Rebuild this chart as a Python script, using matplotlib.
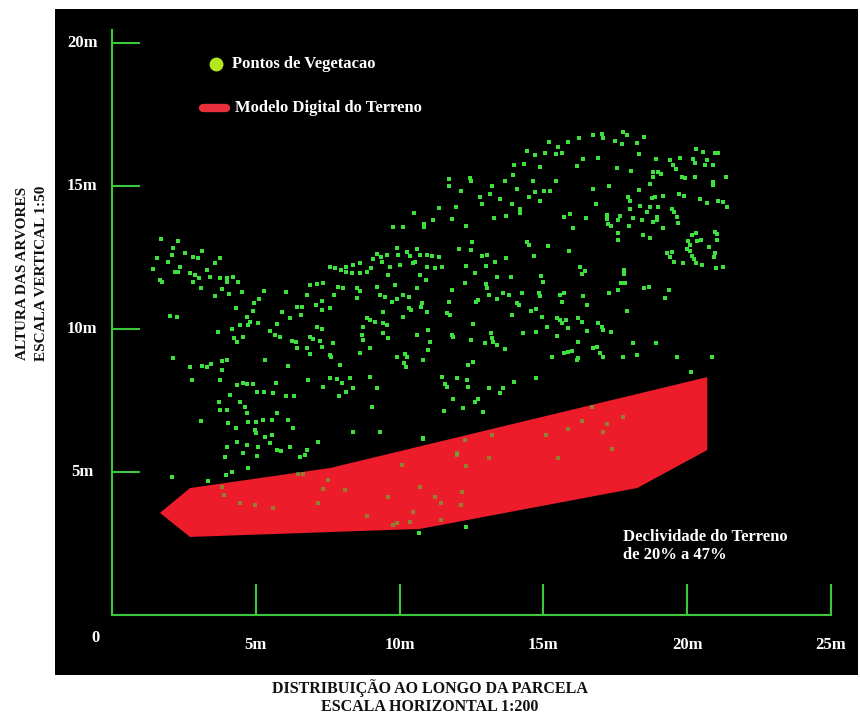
import numpy as np
import matplotlib
matplotlib.use('Agg')
import matplotlib.pyplot as plt
from matplotlib.path import Path
from matplotlib.patches import Polygon

""" Modelo digital do terreno (contorno do poligono, em metros) """
terreno_x = [1.67, 2.71, 7.58, 20.70, 20.70, 18.26, 10.71, 2.71]
terreno_y = [3.57, 4.44, 5.14, 8.32, 5.77, 4.44, 3.01, 2.73]

""" Pontos de vegetacao (distancia ao longo da parcela, altura), em metros """
pontos = [
    # copa a esquerda
    (1.70, 13.15), (2.30, 13.08), (2.12, 12.83), (3.13, 12.73), (2.54, 12.66), (2.09, 12.59),
    (1.57, 12.48), (2.82, 12.52), (2.99, 12.48), (3.76, 12.48), (1.95, 12.34), (3.58, 12.31),
    (2.37, 12.17), (2.19, 11.99), (2.30, 11.99), (1.43, 12.10), (3.30, 12.06), (2.71, 11.96),
    (2.89, 11.89), (3.03, 11.78), (1.67, 11.71), (1.74, 11.64), (3.41, 11.82), (3.76, 11.78),
    (4.00, 11.78), (4.00, 11.64), (4.21, 11.82), (4.38, 11.64), (2.82, 11.64), (3.10, 11.43),
    (3.83, 11.40), (3.58, 11.15), (4.07, 11.22), (4.52, 11.29), (5.29, 11.33), (6.05, 11.29),
    (5.11, 11.05), (4.94, 10.91), (4.31, 10.73), (4.90, 10.63), (4.70, 10.42), (4.80, 10.24),
    (4.73, 10.14), (5.91, 10.59), (6.19, 10.38), (6.43, 10.77), (2.02, 10.45), (2.26, 10.42),
    (4.45, 10.14), (5.08, 10.21), (5.74, 10.17), (4.17, 10.00), (3.69, 9.90), (5.50, 9.93),
    (5.67, 9.79), (5.84, 9.72), (4.56, 9.72), (4.24, 9.69), (4.35, 9.55), (6.26, 9.58),
    (6.40, 9.55), (6.43, 9.34),
    # copa central
    (9.77, 13.57), (10.12, 13.57), (9.22, 12.62), (9.36, 12.52), (9.57, 12.59), (9.91, 12.83),
    (10.26, 12.69), (10.61, 12.80), (9.95, 12.59), (10.37, 12.55), (10.54, 12.34), (7.58, 12.17),
    (7.76, 12.13), (7.97, 12.06), (8.14, 11.99), (8.35, 11.96), (8.14, 12.17), (8.38, 12.24),
    (8.63, 12.31), (8.63, 11.96), (8.87, 11.99), (9.01, 12.13), (9.08, 12.45), (9.39, 12.34),
    (9.67, 12.17), (9.60, 11.89), (10.02, 12.24), (10.47, 12.31), (7.34, 11.61), (7.13, 11.57),
    (7.86, 11.47), (8.03, 11.43), (8.52, 11.43), (8.63, 11.33), (6.89, 11.54), (9.22, 11.47),
    (9.84, 11.54), (10.61, 11.43), (6.78, 11.19), (7.30, 10.98), (7.72, 11.19), (8.52, 11.08),
    (9.32, 11.19), (9.50, 11.12), (9.74, 10.94), (9.91, 11.05), (10.12, 11.19), (10.33, 11.12),
    (7.10, 10.84), (7.30, 10.66), (6.61, 10.77), (7.58, 10.73), (9.43, 10.59), (10.33, 10.73),
    (10.40, 10.66), (10.75, 10.77), (8.87, 10.38), (8.97, 10.31), (9.15, 10.24), (9.43, 10.21),
    (9.57, 10.14), (10.12, 10.42), (6.57, 10.49), (7.13, 10.07), (7.30, 10.00), (6.89, 9.72),
    (6.99, 9.65), (7.23, 9.58), (7.30, 9.37), (8.73, 10.07), (9.43, 9.86), (10.61, 9.79),
    (8.70, 9.79), (8.73, 9.62), (9.60, 9.69), (7.69, 9.51), (6.78, 9.34), (8.97, 9.34),
    (9.91, 9.02), (10.19, 9.13), (10.26, 9.02), (10.16, 8.81), (10.23, 8.67), (10.82, 8.92),
    (6.89, 9.13), (7.58, 9.09), (7.62, 9.02), (8.63, 9.16), (10.50, 14.06),
    # parte baixa a esquerda
    (2.12, 8.99), (2.71, 8.67), (3.13, 8.71), (3.30, 8.67), (3.44, 8.78), (3.83, 8.88),
    (4.00, 8.92), (3.83, 8.57), (2.78, 8.22), (3.76, 8.22), (4.35, 8.04), (4.56, 8.11),
    (4.70, 8.08), (4.90, 8.08), (4.10, 7.69), (5.04, 7.80), (5.32, 8.92), (5.29, 7.80),
    (5.60, 7.76), (5.70, 8.11), (6.12, 8.71), (6.05, 7.66), (6.33, 7.66), (6.82, 8.22),
    (7.34, 7.97), (7.58, 8.29), (7.83, 8.25), (8.00, 8.11), (8.14, 7.80), (7.90, 7.66),
    (8.28, 8.29), (8.38, 7.94), (8.97, 8.32), (9.22, 7.94), (9.04, 7.27), (7.93, 8.74),
    (3.72, 7.45), (4.00, 7.17), (4.45, 7.45), (4.63, 7.27), (4.70, 7.06), (3.76, 7.17),
    (3.10, 6.78), (4.03, 6.71), (4.31, 6.54), (4.73, 6.75), (5.01, 6.75), (4.97, 6.47),
    (5.01, 6.36), (5.25, 6.82), (5.57, 6.82), (5.32, 6.22), (5.57, 6.29), (5.74, 7.06),
    (6.12, 6.82), (6.30, 6.54), (5.50, 6.01), (5.74, 5.77), (5.88, 5.73), (5.08, 5.87),
    (4.70, 5.94), (4.35, 6.05), (4.00, 5.87), (3.93, 5.52), (5.04, 5.56), (6.19, 5.87),
    (6.54, 5.52), (6.71, 5.59), (6.78, 5.77), (7.17, 6.05), (8.38, 6.40), (9.32, 6.40),
    (10.82, 6.19), (4.73, 5.14), (4.17, 5.00), (3.97, 4.90), (2.09, 4.83), (4.56, 5.66),
    (3.34, 4.69), (3.83, 4.48), (3.90, 4.20),
    # sobre o terreno
    (4.45, 3.92), (4.97, 3.85), (5.60, 3.74), (6.47, 4.93), (6.64, 4.93), (7.51, 4.72),
    (7.34, 4.41), (8.10, 4.37), (7.17, 3.92), (8.87, 3.46), (10.09, 5.24), (9.60, 4.13),
    (10.71, 4.48), (10.47, 3.60), (11.23, 4.13), (11.44, 3.92), (9.91, 3.22), (9.77, 3.15),
    (10.37, 3.25), (11.44, 3.32), (10.68, 2.87), (12.00, 5.66), (16.70, 7.27), (16.35, 6.78),
    (15.86, 6.50), (17.77, 6.92), (17.22, 6.68), (17.08, 6.40), (17.39, 5.80), (15.10, 6.29),
    (13.22, 6.29), (12.28, 6.12), (12.00, 5.59), (12.31, 5.21), (13.11, 5.49), (15.51, 5.49),
    (12.17, 4.30), (12.14, 3.85), (12.31, 3.08),
    # entre copa e terreno
    (12.38, 8.74), (12.56, 8.85), (11.48, 8.32), (11.58, 8.08), (11.65, 7.97), (12.00, 8.29),
    (12.35, 8.22), (12.38, 7.97), (13.11, 7.94), (13.60, 7.94), (13.50, 7.76), (13.98, 8.15),
    (14.75, 8.29), (11.86, 7.55), (12.63, 7.45), (12.73, 7.55), (12.21, 7.24), (11.55, 7.13),
    (12.90, 7.10), (10.82, 6.15), (20.14, 8.50), (16.17, 8.92),
    # copa a direita
    (16.24, 16.68), (15.86, 16.54), (16.73, 16.78), (17.04, 16.82), (17.08, 16.68), (17.77, 16.89),
    (17.91, 16.78), (17.50, 16.57), (17.74, 16.47), (18.26, 16.50), (18.50, 16.71), (15.20, 16.54),
    (14.43, 16.22), (14.71, 16.08), (15.06, 16.15), (15.51, 16.36), (15.44, 16.12), (15.65, 16.15),
    (16.38, 15.94), (16.17, 15.70), (16.90, 15.98), (17.57, 15.63), (18.05, 15.52), (18.33, 16.12),
    (18.92, 15.94), (19.41, 15.91), (19.51, 15.73), (19.62, 15.59), (19.76, 15.98), (20.21, 15.94),
    (20.28, 15.80), (20.31, 16.29), (20.56, 16.19), (20.97, 16.15), (21.08, 16.15), (20.70, 15.91),
    (20.90, 15.73), (20.63, 15.73), (18.82, 15.49), (18.82, 15.31), (18.99, 15.49), (19.10, 15.42),
    (19.83, 15.31), (19.93, 15.28), (20.28, 15.31), (21.36, 15.31), (20.90, 15.14), (20.90, 15.03),
    (14.89, 15.66), (13.98, 15.73), (14.33, 15.77), (13.95, 15.38), (13.67, 15.17), (14.64, 15.17),
    (15.44, 15.17), (11.72, 15.24), (11.72, 15.00), (12.45, 15.28), (12.49, 15.17), (13.22, 15.00),
    (12.14, 14.83), (12.80, 14.62), (13.15, 14.72), (13.50, 14.55), (14.09, 14.90), (14.50, 14.62),
    (14.71, 14.79), (15.03, 14.83), (15.23, 14.83), (14.89, 14.48), (16.73, 14.90), (17.29, 15.00),
    (17.95, 14.62), (18.02, 14.48), (18.33, 14.86), (18.71, 15.07), (18.89, 14.62), (18.78, 14.58),
    (19.16, 14.65), (19.72, 14.72), (19.90, 14.65), (20.45, 14.55), (20.70, 14.41), (21.08, 14.48),
    (21.25, 14.44), (21.39, 14.27), (11.37, 14.23), (11.97, 14.27), (12.87, 14.37), (13.91, 14.37),
    (14.19, 14.20), (14.19, 14.06), (13.29, 13.88), (13.70, 13.95), (11.17, 13.81), (11.83, 13.85),
    (10.85, 13.67), (10.85, 13.57), (12.31, 13.60), (15.72, 13.92), (15.93, 14.02), (16.49, 13.88),
    (16.03, 13.53), (17.22, 13.99), (17.22, 13.85), (17.25, 13.67), (17.36, 13.60), (16.83, 14.37),
    (17.67, 13.95), (17.60, 13.81), (18.02, 14.20), (18.12, 13.88), (18.37, 14.30), (18.61, 14.09),
    (18.71, 14.27), (17.98, 13.60), (18.43, 13.81), (18.99, 14.27), (18.96, 13.92), (19.48, 14.20),
    (19.55, 14.09), (19.65, 13.92), (18.82, 13.74), (18.96, 13.81), (19.16, 13.53), (19.69, 13.71),
    (17.60, 13.36), (17.60, 13.11), (18.47, 13.29), (18.71, 13.18), (20.97, 13.39), (21.04, 13.32),
    (21.04, 13.11), (20.17, 13.29), (20.31, 13.36), (20.35, 13.08), (20.03, 13.08), (20.10, 12.94),
    (20.49, 13.11), (20.77, 12.87), (20.00, 12.80), (20.10, 12.73), (20.97, 12.66), (20.94, 12.52),
    (19.30, 12.66), (19.48, 12.69), (19.41, 12.52), (19.55, 12.34), (19.86, 12.31), (20.17, 12.55),
    (20.24, 12.45), (20.31, 12.31), (20.52, 12.24), (21.01, 12.13), (21.25, 12.17),
    (10.71, 12.59), (10.96, 12.59), (11.13, 12.55), (11.37, 12.52), (10.96, 12.17), (11.23, 12.13),
    (11.48, 12.17), (10.71, 11.89), (10.92, 11.71), (12.07, 12.80), (12.52, 13.04), (12.49, 12.76),
    (12.87, 12.55), (13.04, 12.59), (12.31, 12.20), (13.01, 12.20), (13.32, 12.34), (13.70, 12.48),
    (12.63, 11.96), (13.01, 11.57), (13.04, 11.43), (13.39, 11.82), (13.88, 11.82), (14.43, 13.04),
    (14.50, 12.94), (14.68, 12.55), (15.17, 12.90), (15.90, 12.73), (16.28, 12.17), (16.45, 12.03),
    (16.35, 11.92), (14.92, 11.85), (14.99, 11.64), (14.85, 11.26), (14.89, 11.15), (14.57, 10.63),
    (14.75, 10.70), (14.09, 10.91), (14.16, 10.84), (13.91, 10.49), (14.26, 11.26), (13.81, 11.19),
    (13.60, 11.26), (13.11, 11.19), (13.39, 11.05), (12.73, 11.01), (12.66, 10.94), (11.83, 11.36),
    (11.72, 10.94), (12.28, 11.61), (11.65, 10.56), (11.76, 10.49), (10.96, 10.59), (10.78, 10.91),
    (10.99, 9.97), (11.83, 9.79), (11.86, 9.72), (11.06, 9.55), (10.99, 9.27), (12.56, 10.17),
    (12.49, 9.62), (12.97, 9.51), (13.18, 9.86), (13.22, 9.69), (13.25, 9.55), (13.39, 9.44),
    (13.67, 9.30), (15.48, 10.38), (15.58, 10.31), (15.65, 10.21), (15.79, 10.31), (15.86, 10.03),
    (15.58, 11.19), (15.65, 10.94), (15.72, 11.26), (16.38, 11.15), (16.21, 10.38), (16.35, 10.24),
    (16.52, 10.84), (14.96, 10.42), (15.13, 10.07), (14.75, 9.90), (14.30, 9.86), (15.48, 9.76),
    (15.86, 9.20), (16.00, 9.23), (15.72, 9.16), (16.21, 9.55), (16.73, 9.34), (16.87, 9.37),
    (16.97, 9.16), (17.08, 9.02), (16.90, 10.21), (17.04, 10.07), (17.08, 9.97), (16.52, 9.93),
    (17.36, 9.90), (17.29, 11.26), (17.60, 11.36), (17.70, 11.61), (17.84, 11.61), (17.81, 12.06),
    (17.81, 11.92), (17.91, 10.63), (18.12, 9.51), (18.26, 9.09), (17.77, 9.02), (16.21, 8.99),
    (15.30, 9.02), (18.50, 11.43), (18.68, 11.47), (19.23, 11.08), (19.37, 11.36), (18.92, 9.51),
    (19.65, 9.02), (20.87, 9.02),
]

y_ticks = [5, 10, 15, 20]
y_tick_labels = ['5m', '10m', '15m', '20m']
x_ticks = [5, 10, 15, 20, 25]
x_tick_labels = ['5m', '10m', '15m', '20m', '25m']

verde = '#3cc83c'
serif = 'Liberation Serif'

fig = plt.figure(figsize=(8.6, 7.22), dpi=100)
fig.patch.set_facecolor('white')
ax = fig.add_axes([0.064, 0.065, 0.934, 0.9225])
ax.set_facecolor('black')
ax.set_xlim(-1.98, 25.95)
ax.set_ylim(-2.10, 21.19)
ax.set_xticks([])
ax.set_yticks([])
for s in ax.spines.values():
    s.set_visible(False)

"""Eixos desenhados a mao, como no original"""
ax.plot([0, 0], [0, 20.45], color=verde, lw=1.5, zorder=1)
ax.plot([0, 25], [0, 0], color=verde, lw=1.5, zorder=1)
for t, lab in zip(y_ticks, y_tick_labels):
    ax.plot([0, 0.95], [t, t], color=verde, lw=1.5, zorder=1)
    ax.text(-1.04, t, lab, color='white', ha='center', va='center',
            family=serif, weight='bold', size=12)
for t, lab in zip(x_ticks, x_tick_labels):
    ax.plot([t, t], [0, 1.05], color=verde, lw=1.5, zorder=1)
    ax.text(t, -1.05, lab, color='white', ha='center', va='center',
            family=serif, weight='bold', size=12)
ax.text(-0.56, -0.80, '0', color='white', ha='center', va='center',
        family=serif, weight='bold', size=12)

"""Terreno"""
contorno = np.column_stack([terreno_x, terreno_y])
ax.add_patch(Polygon(contorno, closed=True, facecolor='#ec1c2a', edgecolor='none', zorder=2))

"""Pontos de vegetacao, mais apagados quando caem sobre o terreno"""
pts = np.array(pontos)
dentro = Path(contorno).contains_points(pts)
ax.scatter(pts[~dentro, 0], pts[~dentro, 1], s=12, marker='s', color='#3ee03e', lw=0, zorder=3)
ax.scatter(pts[dentro, 0], pts[dentro, 1], s=12, marker='s', color='#3ee03e', lw=0, alpha=0.5, zorder=3)

"""Legenda"""
ax.plot([3.62], [19.27], marker='o', ms=10, color='#b4e61d', mec='none', zorder=4)
ax.text(4.17, 19.27, 'Pontos de Vegetacao', color='white', ha='left', va='center',
        family=serif, weight='bold', size=12)
ax.plot([3.15, 3.95], [17.73, 17.73], color='#e8303c', lw=6, solid_capstyle='round', zorder=4)
ax.text(4.28, 17.73, 'Modelo Digital do Terreno', color='white', ha='left', va='center',
        family=serif, weight='bold', size=12)

ax.text(17.77, 2.41, 'Declividade do Terreno\nde 20% a 47%', color='white', ha='left', va='center',
        family=serif, weight='bold', size=12, linespacing=1.15)

"""Titulos dos eixos, fora do painel preto"""
fig.text(430 / 860, 1 - 688 / 722, 'DISTRIBUIÇÃO AO LONGO DA PARCELA', ha='center', va='center',
         family=serif, weight='bold', size=11.5, color='#111111')
fig.text(430 / 860, 1 - 707 / 722, 'ESCALA HORIZONTAL 1:200', ha='center', va='center',
         family=serif, weight='bold', size=11.5, color='#111111')
fig.text(23 / 860, 1 - 273 / 722, 'ALTURA DAS ARVORES', ha='center', va='center', rotation=90,
         family=serif, weight='bold', size=11, color='#111111')
fig.text(42 / 860, 1 - 273 / 722, 'ESCALA VERTICAL 1:50', ha='center', va='center', rotation=90,
         family=serif, weight='bold', size=11, color='#111111')

fig.savefig('out.png', dpi=100, facecolor='white')
